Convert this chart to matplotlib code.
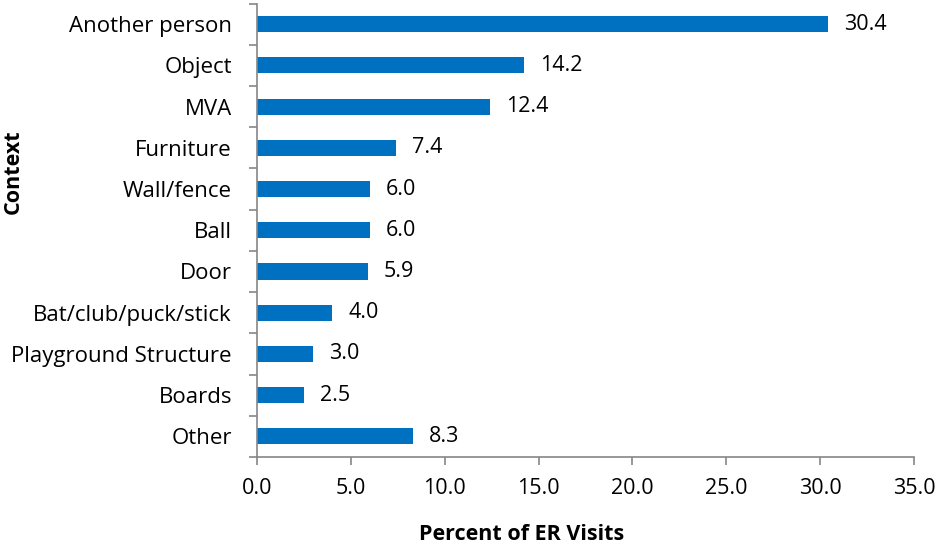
import matplotlib
matplotlib.use("Agg")
import matplotlib.pyplot as plt

categories = ["Another person", "Object", "MVA", "Furniture", "Wall/fence", "Ball",
              "Door", "Bat/club/puck/stick", "Playground Structure", "Boards", "Other"]
values = [30.4, 14.2, 12.4, 7.4, 6.0, 6.0, 5.9, 4.0, 3.0, 2.5, 8.3]
xticks = [0, 5, 10, 15, 20, 25, 30, 35]

plt.rcParams['font.family'] = ['Open Sans', 'DejaVu Sans']
FS = 15.5
W, H = 937, 546
fig = plt.figure(figsize=(W/100, H/100), dpi=100)
ax = fig.add_axes([257/W, 1-457/H, (914-257)/W, (457-3.5)/H])

n = len(categories)
ypos = list(range(n))[::-1]
bar_color = "#0070C0"
axis_color = "#868686"
ax.barh(ypos, values, height=0.39, color=bar_color)
for y, v in zip(ypos, values):
    ax.annotate(f"{v:.1f}", (v, y), xytext=(16, 0), textcoords="offset pixels",
                va="center", ha="left", fontsize=FS, color="black")

ax.set_xlim(0, 35)
ax.set_ylim(-0.5, n-0.5)
ax.set_xticks(xticks)
ax.set_xticklabels([f"{t:.1f}" for t in xticks], fontsize=FS)
ax.set_yticks(ypos)
ax.set_yticklabels(categories, fontsize=16)
ax.set_yticks([i - 0.5 for i in range(n+1)], minor=True)
ax.tick_params(axis='y', which='major', length=0, pad=18)
ax.tick_params(axis='y', which='minor', length=6, color=axis_color, width=1.2)
ax.tick_params(axis='x', which='major', length=6, color=axis_color, width=1.2, pad=9)
for s in ["top", "right"]:
    ax.spines[s].set_visible(False)
for s in ["left", "bottom"]:
    ax.spines[s].set_color(axis_color)
    ax.spines[s].set_linewidth(1.2)

fig.text(522/W, 1-535/H, "Percent of ER Visits", ha="center", va="center", fontsize=FS, fontweight="bold")
fig.text(13/W, 1-172/H, "Context", ha="center", va="center", rotation=90, fontsize=FS, fontweight="bold")

fig.savefig("out.png", dpi=100)
